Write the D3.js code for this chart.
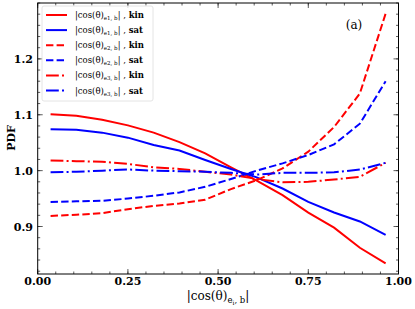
<!DOCTYPE html>
<html>
<head>
<meta charset="utf-8">
<script src="https://cdn.jsdelivr.net/npm/d3@7"></script>
<style>
  body { margin: 0; background: #fff; }
  svg text { font-family: "DejaVu Serif", "Liberation Serif", serif; }
</style>
</head>
<body>
<svg id="chart" width="415" height="309"></svg>
<script>
// bin centres, 14 bins on [0,1]
var binCenters = [0.0357, 0.1071, 0.1786, 0.25, 0.3214, 0.3929, 0.4643, 0.5357, 0.6071, 0.6786, 0.75, 0.8214, 0.8929, 0.9643];

var kinE1 = [1.101, 1.098, 1.091, 1.081, 1.068, 1.051, 1.031, 1.006, 0.982, 0.956, 0.925, 0.898, 0.862, 0.834];
var satE1 = [1.074, 1.073, 1.068, 1.059, 1.046, 1.036, 1.019, 1.003, 0.988, 0.968, 0.944, 0.925, 0.909, 0.885];
var kinE2 = [0.919, 0.921, 0.924, 0.931, 0.937, 0.941, 0.948, 0.967, 0.983, 1.004, 1.034, 1.078, 1.138, 1.281];
var satE2 = [0.944, 0.945, 0.946, 0.950, 0.955, 0.961, 0.971, 0.985, 1.000, 1.013, 1.028, 1.047, 1.084, 1.160];
var kinE3 = [1.018, 1.017, 1.016, 1.012, 1.006, 1.003, 0.998, 0.993, 0.985, 0.979, 0.980, 0.984, 0.989, 1.014];
var satE3 = [0.997, 0.998, 1.000, 1.002, 1.000, 0.999, 0.998, 0.996, 0.993, 0.996, 0.996, 0.997, 1.002, 1.014];

var xTicks = [0, 0.25, 0.5, 0.75, 1.0];
var yTicks = [0.9, 1.0, 1.1, 1.2];

var series = [
  { vals: kinE1, color: "#ff0000", dash: null,              sub: "1", kind: "kin" },
  { vals: satE1, color: "#0000ff", dash: null,              sub: "1", kind: "sat" },
  { vals: kinE2, color: "#ff0000", dash: "7.4,3.2",         sub: "2", kind: "kin" },
  { vals: satE2, color: "#0000ff", dash: "7.4,3.2",         sub: "2", kind: "sat" },
  { vals: kinE3, color: "#ff0000", dash: "12.8,3.2,2,3.2",  sub: "3", kind: "kin" },
  { vals: satE3, color: "#0000ff", dash: "12.8,3.2,2,3.2",  sub: "3", kind: "sat" }
];

var svg = d3.select("#chart");
var pLeft = 37.7, pRight = 398.5, pTop = 3, pBottom = 274;

var x = d3.scaleLinear().domain([0, 1]).range([pLeft, pRight]);
var y = d3.scaleLinear().domain([0.815, 1.3]).range([pBottom, pTop]);

// minor + major ticks, all four sides, pointing in
var g = svg.append("g");
var xMinor = d3.range(0, 1.0001, 0.05);
var yMinor = d3.range(0.82, 1.3, 0.02);

function xTickLines(vals, len) {
  vals.forEach(function(v) {
    g.append("line").attr("x1", x(v)).attr("x2", x(v)).attr("y1", pBottom).attr("y2", pBottom - len)
      .attr("stroke", "#333").attr("stroke-width", 0.8);
    g.append("line").attr("x1", x(v)).attr("x2", x(v)).attr("y1", pTop).attr("y2", pTop + len)
      .attr("stroke", "#333").attr("stroke-width", 0.8);
  });
}
xTickLines(xMinor, 2.5);
xTickLines(xTicks, 5);

function yTickLines(vals, len) {
  vals.forEach(function(v) {
    g.append("line").attr("y1", y(v)).attr("y2", y(v)).attr("x1", pLeft).attr("x2", pLeft + len)
      .attr("stroke", "#333").attr("stroke-width", 0.8);
    g.append("line").attr("y1", y(v)).attr("y2", y(v)).attr("x1", pRight).attr("x2", pRight - len)
      .attr("stroke", "#333").attr("stroke-width", 0.8);
  });
}
yTickLines(yMinor, 2.5);
yTickLines(yTicks, 5);

// tick labels
svg.selectAll(".xlab").data(xTicks).enter().append("text")
  .attr("x", function(d) { return x(d); })
  .attr("y", 285)
  .attr("text-anchor", "middle")
  .attr("font-size", 11)
  .attr("font-weight", "bold")
  .text(function(d) { return d3.format(".2f")(d); });

svg.selectAll(".ylab").data(yTicks).enter().append("text")
  .attr("x", 33)
  .attr("y", function(d) { return y(d) + 4; })
  .attr("text-anchor", "end")
  .attr("font-size", 11)
  .attr("font-weight", "bold")
  .text(function(d) { return d3.format(".1f")(d); });

// lines
var line = d3.line()
  .x(function(d, i) { return x(binCenters[i]); })
  .y(function(d) { return y(d); });

svg.selectAll(".series").data(series).enter().append("path")
  .attr("d", function(s) { return line(s.vals); })
  .attr("fill", "none")
  .attr("stroke", function(s) { return s.color; })
  .attr("stroke-width", 2)
  .attr("stroke-dasharray", function(s) { return s.dash; });

// frame
svg.append("rect")
  .attr("x", pLeft).attr("y", pTop)
  .attr("width", pRight - pLeft).attr("height", pBottom - pTop)
  .attr("fill", "none").attr("stroke", "#000").attr("stroke-width", 1);

// legend
var lg = svg.append("g");
lg.append("rect")
  .attr("x", 42).attr("y", 6).attr("width", 111).attr("height", 95).attr("rx", 2)
  .attr("fill", "#fff").attr("fill-opacity", 0.8)
  .attr("stroke", "#ddd").attr("stroke-width", 0.8);

series.forEach(function(s, i) {
  var ly = 15 + 15.1 * i;
  lg.append("line")
    .attr("x1", 46).attr("x2", 67).attr("y1", ly).attr("y2", ly)
    .attr("stroke", s.color).attr("stroke-width", 2)
    .attr("stroke-dasharray", s.dash);
  var t = lg.append("text").attr("x", 75).attr("y", ly + 3).attr("font-size", 8.5);
  t.append("tspan").text("|cos(θ)");
  t.append("tspan").attr("font-size", 5.5).attr("dy", 2).text("e" + s.sub + ", b");
  t.append("tspan").attr("dy", -2).text("| , ");
  t.append("tspan").attr("font-weight", "bold").text(s.kind);
});

// panel label
svg.append("text").attr("x", 354).attr("y", 29)
  .attr("text-anchor", "middle").attr("font-size", 12).text("(a)");

// axis labels
var xl = svg.append("text").attr("x", 218).attr("y", 300)
  .attr("text-anchor", "middle").attr("font-size", 12);
xl.append("tspan").text("|cos(θ)");
xl.append("tspan").attr("font-size", 8.5).attr("dy", 3).text("e");
xl.append("tspan").attr("font-size", 6).attr("dy", 1.5).text("i");
xl.append("tspan").attr("font-size", 8.5).attr("dy", -1.5).text(", b");
xl.append("tspan").attr("dy", -3).text("|");

svg.append("text")
  .attr("transform", "translate(15,138) rotate(-90)")
  .attr("text-anchor", "middle")
  .attr("font-size", 11)
  .attr("font-weight", "bold")
  .text("PDF");
</script>
</body>
</html>
